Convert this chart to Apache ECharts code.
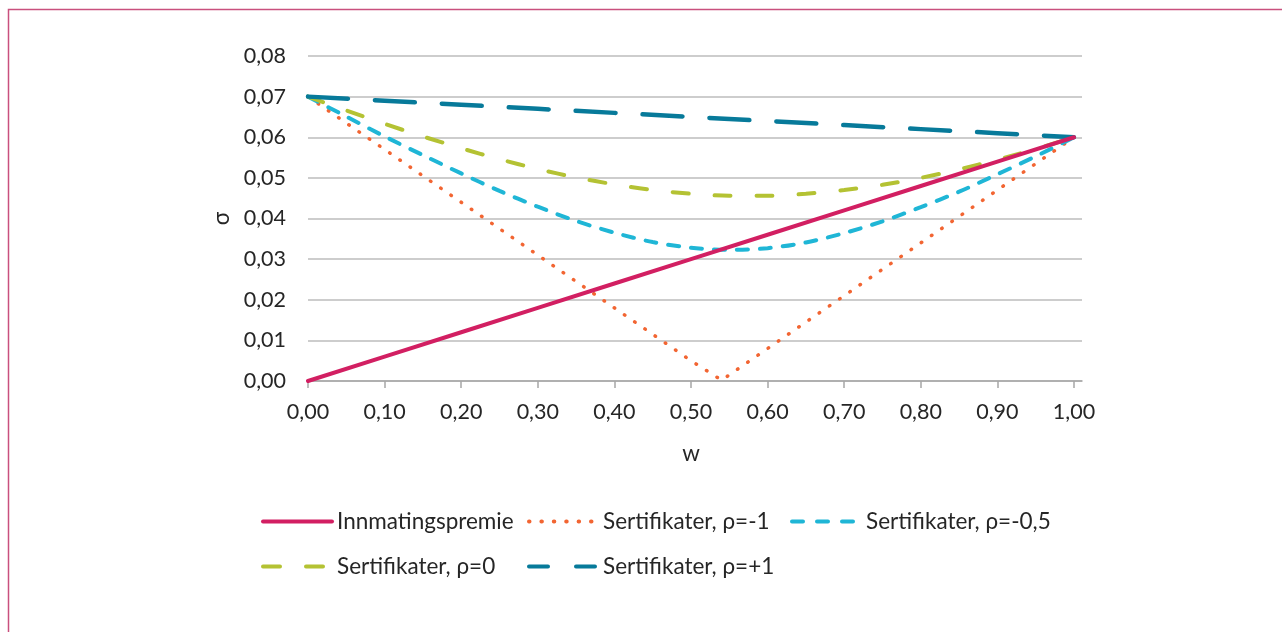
<!DOCTYPE html>
<html>
<head>
<meta charset="utf-8">
<script src="https://cdn.jsdelivr.net/npm/echarts@6/dist/echarts.min.js"></script>
<style>
html,body{margin:0;padding:0;background:#fff;}
#c{width:1282px;height:632px;}
</style>
</head>
<body>
<div id="c"></div>
<script>
// ---- data ----
const wSmooth = [0,0.05,0.10,0.15,0.20,0.25,0.30,0.35,0.40,0.45,0.50,0.55,0.60,0.65,0.70,0.75,0.80,0.85,0.90,0.95,1.00];
const wLinear = [0,0.10,0.20,0.30,0.40,0.50,0.60,0.70,0.80,0.90,1.00];
const wDip    = [0,0.10,0.20,0.30,0.40,0.50,0.54,0.60,0.70,0.80,0.90,1.00];

const innmatingspremie = [0,0.006,0.012,0.018,0.024,0.030,0.036,0.042,0.048,0.054,0.060];
const rhoMinus1        = [0.070,0.057,0.044,0.031,0.018,0.005,0.0002,0.008,0.021,0.034,0.047,0.060];
const rhoMinusHalf     = [0.0700,0.0651,0.0602,0.0556,0.0511,0.0468,0.0429,0.0394,0.0365,0.0342,0.0328,0.0323,0.0327,0.0341,0.0364,0.0393,0.0428,0.0466,0.0509,0.0553,0.0600];
const rhoZero          = [0.0700,0.0666,0.0633,0.0602,0.0573,0.0546,0.0522,0.0501,0.0484,0.0470,0.0461,0.0456,0.0456,0.0461,0.0470,0.0483,0.0500,0.0521,0.0545,0.0571,0.0600];
const rhoPlus1         = [0.070,0.069,0.068,0.067,0.066,0.065,0.064,0.063,0.062,0.061,0.060];

const seriesNames = ['Innmatingspremie','Sertifikater, ρ=-1','Sertifikater, ρ=-0,5','Sertifikater, ρ=0','Sertifikater, ρ=+1'];
const xTickLabels = ['0,00','0,10','0,20','0,30','0,40','0,50','0,60','0,70','0,80','0,90','1,00'];
const yTickLabels = ['0,00','0,01','0,02','0,03','0,04','0,05','0,06','0,07','0,08'];

const pairs = (xs, ys) => xs.map((x, i) => [x, ys[i]]);

const FONT = 'Lato';
const TXT = '#262626';
const FS = 21.5;
const LFS = 22.5;

const chart = echarts.init(document.getElementById('c'), null, {renderer:'canvas'});

function legendAt(name, left, cy, dash) {
  return {
    data:[name], left:left, top:cy - 12, padding:0,
    itemWidth:69, itemHeight:14, itemGap:0,
    itemStyle:{opacity:0},
    lineStyle:{width:4, type:dash, cap:'round'},
    textStyle:{fontFamily:FONT, fontSize:LFS, color:TXT},
    selectedMode:false
  };
}

chart.setOption({
  animation:false,
  graphic:[{
    type:'rect', silent:true,
    shape:{x:8.5, y:9.5, width:1400, height:800},
    style:{fill:'none', stroke:'#c9507e', lineWidth:1.5}
  }],
  grid:[
    {left:308, right:200, top:56, bottom:251},   // frame incl. small overhang past 1,00
    {left:308, right:208, top:56, bottom:251}    // data grid, 0..1
  ],
  xAxis:[
    {gridIndex:0, type:'value', min:0, max:1, show:true,
     axisLine:{show:true, lineStyle:{color:'#a6a6a6', width:1.5}},
     axisTick:{show:false}, axisLabel:{show:false}, splitLine:{show:false}},
    {gridIndex:1, type:'value', min:0, max:1, interval:0.1,
     axisLine:{show:false},
     axisTick:{show:true, length:7, lineStyle:{color:'#a6a6a6', width:1.5}},
     axisLabel:{margin:20, fontFamily:FONT, fontSize:FS, color:TXT,
       formatter:(v)=>xTickLabels[Math.round(v*10)]},
     splitLine:{show:false},
     name:'w', nameLocation:'middle', nameGap:61,
     nameTextStyle:{fontFamily:FONT, fontSize:LFS, color:TXT}}
  ],
  yAxis:[
    {gridIndex:0, type:'value', min:0, max:0.08, interval:0.01,
     axisLine:{show:false}, axisTick:{show:false},
     axisLabel:{margin:22, fontFamily:FONT, fontSize:FS, color:TXT,
       formatter:(v)=>yTickLabels[Math.round(v*100)]},
     splitLine:{show:true, lineStyle:{color:'#bdbdbd', width:1.5}},
     name:'σ', nameLocation:'middle', nameGap:74, nameRotate:90,
     nameTextStyle:{fontFamily:FONT, fontSize:LFS, color:TXT}},
    {gridIndex:1, type:'value', min:0, max:0.08, interval:0.01, show:false}
  ],
  legend:[
    legendAt(seriesNames[0], 261, 522, 'solid'),
    legendAt(seriesNames[1], 527, 522, [0.5, 11.9]),
    legendAt(seriesNames[2], 790, 522, [11, 14]),
    legendAt(seriesNames[3], 261, 567, [17, 26]),
    legendAt(seriesNames[4], 527, 567, [19, 28])
  ],
  series:[
    {name:seriesNames[0], type:'line', xAxisIndex:1, yAxisIndex:1, symbol:'none',
     data:pairs(wLinear, innmatingspremie), z:5,
     lineStyle:{color:'#d21f62', width:4, cap:'round'}, itemStyle:{color:'#d21f62'}},
    {name:seriesNames[1], type:'line', xAxisIndex:1, yAxisIndex:1, symbol:'none',
     data:pairs(wDip, rhoMinus1), z:3,
     lineStyle:{color:'#f26532', width:3.5, cap:'round', type:[0.5, 11.9]}, itemStyle:{color:'#f26532'}},
    {name:seriesNames[2], type:'line', xAxisIndex:1, yAxisIndex:1, symbol:'none', smooth:0.3,
     data:pairs(wSmooth, rhoMinusHalf), z:4,
     lineStyle:{color:'#1fb6d6', width:4, cap:'round', type:[11, 12]}, itemStyle:{color:'#1fb6d6'}},
    {name:seriesNames[3], type:'line', xAxisIndex:1, yAxisIndex:1, symbol:'none', smooth:0.3,
     data:pairs(wSmooth, rhoZero), z:4,
     lineStyle:{color:'#b4c233', width:4, cap:'round', type:[16, 26]}, itemStyle:{color:'#b4c233'}},
    {name:seriesNames[4], type:'line', xAxisIndex:1, yAxisIndex:1, symbol:'none',
     data:pairs(wLinear, rhoPlus1), z:4,
     lineStyle:{color:'#077a9a', width:4.5, cap:'round', type:[40, 27]}, itemStyle:{color:'#077a9a'}}
  ]
});
</script>
</body>
</html>
